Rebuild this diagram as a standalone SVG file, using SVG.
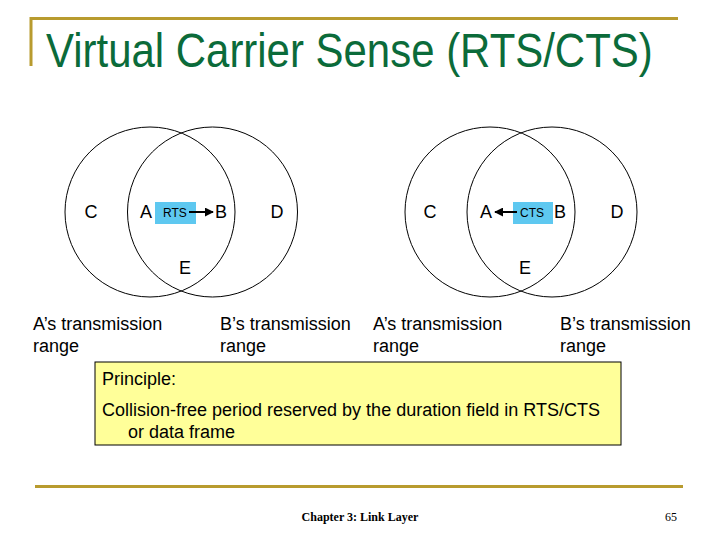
<svg xmlns="http://www.w3.org/2000/svg" width="720" height="540" viewBox="0 0 720 540">
<defs>
<style>
.rule{stroke:#b89b2f;stroke-width:3;fill:none}
.ring{fill:none;stroke:#000;stroke-width:1}
.lbl{font-family:"Liberation Sans",Arial,sans-serif;font-size:18px;fill:#000;text-anchor:middle}
.sm{font-family:"Liberation Sans",Arial,sans-serif;font-size:12px;fill:#000;text-anchor:middle}
.txt{font-family:"Liberation Sans",Arial,sans-serif;font-size:18px;fill:#000}
.ft{font-family:"Liberation Serif","Times New Roman",serif;font-size:12px;fill:#000;font-weight:bold}
.pg{font-family:"Liberation Serif","Times New Roman",serif;font-size:12px;fill:#000;font-weight:normal}
.box{fill:#5ec8f0}
.conn{stroke:#000;stroke-width:2;fill:none}
</style>
<marker id="ah" viewBox="0 0 10 10" refX="9" refY="5" markerWidth="4.5" markerHeight="4.5" orient="auto-start-reverse">
<path d="M0,0 L10,5 L0,10 z" fill="#000"/>
</marker>
</defs>
<rect width="720" height="540" fill="#fff"/>
<path class="rule" d="M31,66 V18.5 H678"/>
<path class="rule" d="M35,486.5 H683"/>
<text transform="translate(46,67) scale(0.874,1)" x="0" y="0" font-family="'Liberation Sans',Arial,sans-serif" font-size="48" fill="#0b6b3a">Virtual Carrier Sense (RTS/CTS)</text>

<g id="left-diagram">
<circle class="ring" cx="150" cy="212" r="85"/>
<circle class="ring" cx="212.5" cy="212" r="85"/>
<rect class="box" x="155" y="202" width="41" height="22"/>
</g>
<g id="right-diagram">
<circle class="ring" cx="490" cy="212" r="85"/>
<circle class="ring" cx="552" cy="212" r="85"/>
<rect class="box" x="513" y="202" width="40" height="22"/>
</g>

<g id="connectors">
<line class="conn" x1="189" y1="212" x2="213" y2="212" marker-end="url(#ah)"/>
<line class="conn" x1="517" y1="212" x2="495" y2="212" marker-end="url(#ah)"/>
</g>

<g id="node-C1"><text class="lbl" x="91" y="218">C</text></g>
<g id="node-A1"><text class="lbl" x="146" y="218">A</text></g>
<g id="node-RTS"><text class="sm" x="175" y="217">RTS</text></g>
<g id="node-B1"><text class="lbl" x="221" y="218">B</text></g>
<g id="node-D1"><text class="lbl" x="277" y="218">D</text></g>
<g id="node-E1"><text class="lbl" x="185" y="274">E</text></g>

<g id="node-C2"><text class="lbl" x="430" y="218">C</text></g>
<g id="node-A2"><text class="lbl" x="486" y="218">A</text></g>
<g id="node-CTS"><text class="sm" x="532" y="217">CTS</text></g>
<g id="node-B2"><text class="lbl" x="560" y="218">B</text></g>
<g id="node-D2"><text class="lbl" x="617" y="218">D</text></g>
<g id="node-E2"><text class="lbl" x="525" y="274">E</text></g>

<g id="range-labels">
<text class="txt" x="33" y="330">A’s transmission</text>
<text class="txt" x="33" y="352">range</text>
<text class="txt" x="220" y="330">B’s transmission</text>
<text class="txt" x="220" y="352">range</text>
<text class="txt" x="373" y="330">A’s transmission</text>
<text class="txt" x="373" y="352">range</text>
<text class="txt" x="560" y="330">B’s transmission</text>
<text class="txt" x="560" y="352">range</text>
</g>

<g id="principle">
<rect x="95" y="362" width="526" height="83" fill="#ffff99" stroke="#000" stroke-width="1"/>
<text class="txt" x="102" y="385">Principle:</text>
<text class="txt" x="102" y="416">Collision-free period reserved by the duration field in RTS/CTS</text>
<text class="txt" x="128" y="438">or data frame</text>
</g>

<text class="ft" x="360" y="521" text-anchor="middle">Chapter 3: Link Layer</text>
<text class="pg" x="671" y="521" text-anchor="middle">65</text>
</svg>
